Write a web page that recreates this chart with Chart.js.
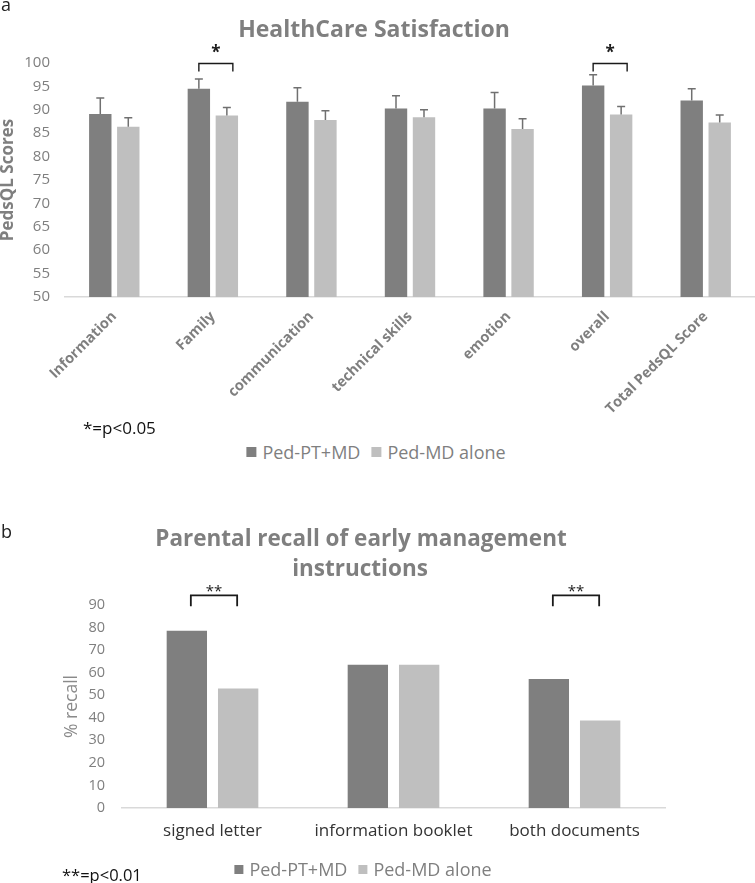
<!DOCTYPE html>
<html><head><meta charset="utf-8">
<script src="https://cdn.jsdelivr.net/npm/chart.js@4.4.1/dist/chart.umd.min.js"></script>
<style>
html,body{margin:0;padding:0;background:#fff;}
#wrap{position:relative;width:755px;height:883px;overflow:hidden;font-family:"Open Sans",Arial,sans-serif;}
.t{position:absolute;white-space:nowrap;line-height:1;}
.c{transform:translate(-50%,-50%);}
.l{transform:translate(0,-50%);}
canvas{position:absolute;left:0;}
.leg{position:absolute;display:flex;align-items:center;white-space:nowrap;line-height:1;transform:translate(-50%,-50%);color:#7f7f7f;}
.leg span.sw{display:inline-block;margin-right:6px;}
.leg span.it{margin-right:11px;}
.leg span.it:last-child{margin-right:0;}
</style></head><body>
<div id="wrap">
<canvas id="cA" width="755" height="440" style="top:0;"></canvas>
<canvas id="cB" width="755" height="403" style="top:480px;"></canvas>
<div class="t l" style="left:1px;top:4px;font-size:18px;color:#222;">a</div>
<div class="t c" style="left:374px;top:28px;font-size:23px;font-weight:bold;color:#7f7f7f;">HealthCare Satisfaction</div>
<div class="t l" style="left:83px;top:427px;font-size:17px;color:#111;">*=p&lt;0.05</div>
<div id="legA" class="leg" style="left:376px;top:452px;font-size:18px;"></div>
<div class="t l" style="left:1px;top:531px;font-size:18px;color:#222;">b</div>
<div class="t c" style="left:361px;top:538px;font-size:22.5px;font-weight:bold;color:#7f7f7f;">Parental recall of early management</div>
<div class="t c" style="left:360px;top:568px;font-size:22.5px;font-weight:bold;color:#7f7f7f;">instructions</div>
<div class="t l" style="left:62px;top:875px;font-size:16.5px;color:#111;">**=p&lt;0.01</div>
<div id="legB" class="leg" style="left:363px;top:869px;font-size:18px;"></div>
</div>
<script>
// ---------- data ----------
const seriesNames = ['Ped-PT+MD', 'Ped-MD alone'];
const seriesColors = ['#7f7f7f', '#bfbfbf'];

const categoriesA = ['Information', 'Family', 'communication', 'technical skills', 'emotion', 'overall', 'Total PedsQL Score'];
const ptmdA = [89.1, 94.5, 91.7, 90.3, 90.3, 95.2, 92.0];
const mdAloneA = [86.4, 88.8, 87.8, 88.4, 85.9, 89.0, 87.3];
const ptmdErrA = [3.4, 2.1, 3.0, 2.7, 3.4, 2.3, 2.5];
const mdAloneErrA = [1.9, 1.7, 2.0, 1.6, 2.2, 1.7, 1.6];
const yMinA = 50, yMaxA = 100, yStepA = 5;
const sigIndexA = [1, 5];
const sigLabelA = '*';

const categoriesB = ['signed letter', 'information booklet', 'both documents'];
const ptmdB = [78.6, 63.5, 57.2];
const mdAloneB = [53.0, 63.5, 38.8];
const yMinB = 0, yMaxB = 90, yStepB = 10;
const sigIndexB = [0, 2];
const sigLabelB = '**';

// ---------- plugins ----------
const errorBarPlugin = {
  id: 'errorBars',
  afterDatasetsDraw(chart, args, opts) {
    const ctx = chart.ctx, y = chart.scales.y;
    chart.data.datasets.forEach((ds, i) => {
      if (!ds.errors) return;
      const meta = chart.getDatasetMeta(i);
      meta.data.forEach((el, j) => {
        const top = y.getPixelForValue(ds.data[j] + ds.errors[j]);
        ctx.save();
        ctx.strokeStyle = opts.color; ctx.lineWidth = opts.width;
        ctx.beginPath();
        ctx.moveTo(el.x, el.y); ctx.lineTo(el.x, top);
        ctx.moveTo(el.x - opts.cap, top); ctx.lineTo(el.x + opts.cap, top);
        ctx.stroke();
        ctx.restore();
      });
    });
  }
};
const bracketPlugin = {
  id: 'brackets',
  afterDraw(chart, args, o) {
    if (!o.items) return;
    const ctx = chart.ctx;
    const m0 = chart.getDatasetMeta(0), m1 = chart.getDatasetMeta(1);
    o.items.forEach(idx => {
      const x0 = m0.data[idx].x + o.dl, x1 = m1.data[idx].x + o.dr;
      const yl = chart.chartArea.top + o.dy;
      ctx.save();
      ctx.strokeStyle = '#1a1a1a'; ctx.lineWidth = o.lw;
      ctx.beginPath();
      ctx.moveTo(x0, yl + o.tick); ctx.lineTo(x0, yl); ctx.lineTo(x1, yl); ctx.lineTo(x1, yl + o.tick);
      ctx.stroke();
      ctx.fillStyle = '#1a1a1a'; ctx.font = o.font; ctx.textAlign = 'center'; ctx.textBaseline = 'alphabetic';
      ctx.fillText(o.label, (x0 + x1) / 2, yl + o.ty);
      ctx.restore();
    });
  }
};

function legendHTML(el, sw) {
  el.innerHTML = seriesNames.map((n, i) =>
    `<span class="sw" style="width:${sw}px;height:${sw}px;background:${seriesColors[i]}"></span><span class="it">${n}</span>`).join('');
}
legendHTML(document.getElementById('legA'), 10);
legendHTML(document.getElementById('legB'), 9);

Chart.defaults.font.family = "'Open Sans', Arial, sans-serif";

// ---------- chart a ----------
new Chart(document.getElementById('cA'), {
  type: 'bar',
  data: {
    labels: categoriesA,
    datasets: [
      { label: seriesNames[0], data: ptmdA, errors: ptmdErrA, backgroundColor: seriesColors[0] },
      { label: seriesNames[1], data: mdAloneA, errors: mdAloneErrA, backgroundColor: seriesColors[1] }
    ]
  },
  options: {
    responsive: false, animation: false,
    layout: { padding: { top: 63, left: 0, right: 0, bottom: 0 } },
    datasets: { bar: { categoryPercentage: 0.568, barPercentage: 0.8 } },
    plugins: {
      legend: { display: false }, tooltip: { enabled: false },
      errorBars: { color: '#707070', width: 1.5, cap: 4 },
      brackets: { items: sigIndexA, label: sigLabelA, dl: 0, dr: 6, dy: 0.5, tick: 8, lw: 1.4, ty: -6, font: 'bold 17px "Open Sans"' }
    },
    scales: {
      x: {
        grid: { display: false, drawTicks: false },
        border: { display: true, color: '#d9d9d9', width: 1.5 },
        ticks: { autoSkip: false, minRotation: 45, maxRotation: 45, padding: 11, color: '#7f7f7f', font: { size: 14.5, weight: 'bold' } },
        afterFit(s) { s.height = 143; }
      },
      y: {
        min: yMinA, max: yMaxA,
        grid: { display: false, drawTicks: false },
        border: { display: false },
        ticks: { stepSize: yStepA, padding: 15, color: '#7f7f7f', font: { size: 15 } },
        title: { display: true, text: 'PedsQL Scores', color: '#7f7f7f', font: { size: 17, weight: 'bold', lineHeight: 1 }, padding: { top: 0, bottom: 0 } },
        afterFit(s) { s.width = 65; }
      }
    }
  },
  plugins: [errorBarPlugin, bracketPlugin]
});

// ---------- chart b ----------
new Chart(document.getElementById('cB'), {
  type: 'bar',
  data: {
    labels: categoriesB,
    datasets: [
      { label: seriesNames[0], data: ptmdB, backgroundColor: seriesColors[0] },
      { label: seriesNames[1], data: mdAloneB, backgroundColor: seriesColors[1] }
    ]
  },
  options: {
    responsive: false, animation: false,
    layout: { padding: { top: 125, left: 0, right: 90, bottom: 0 } },
    datasets: { bar: { categoryPercentage: 0.567, barPercentage: 0.786 } },
    plugins: {
      legend: { display: false }, tooltip: { enabled: false },
      brackets: { items: sigIndexB, label: sigLabelB, dl: 4, dr: -1, dy: -9.7, tick: 11, lw: 1.8, ty: 1, font: '15px "Open Sans"' }
    },
    scales: {
      x: {
        grid: { display: false, drawTicks: false },
        border: { display: true, color: '#d9d9d9', width: 1.5 },
        ticks: { autoSkip: false, maxRotation: 0, padding: 13, color: '#333333', font: { size: 17 } },
        afterFit(s) { s.height = 75; }
      },
      y: {
        min: yMinB, max: yMaxB,
        grid: { display: false, drawTicks: false },
        border: { display: false },
        ticks: { stepSize: yStepB, padding: 17, color: '#7f7f7f', font: { size: 14.5 } },
        title: { display: true, text: '% recall', color: '#8a8a8a', font: { size: 17.5, lineHeight: 1 }, padding: { top: 63, bottom: 0 } },
        afterFit(s) { s.width = 122; }
      }
    }
  },
  plugins: [errorBarPlugin, bracketPlugin]
});
</script>
</body></html>
